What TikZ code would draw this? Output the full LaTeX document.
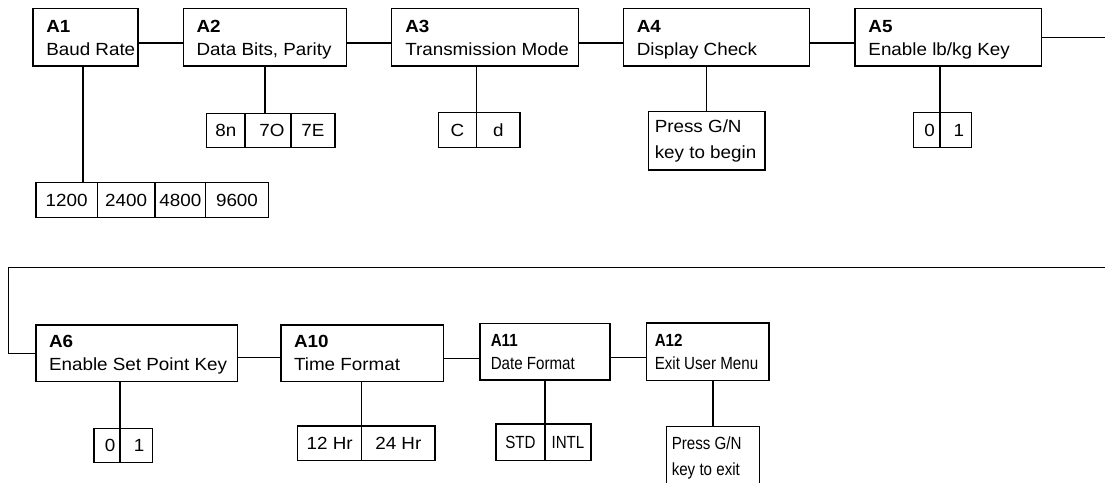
\documentclass[tikz,border=0pt]{standalone}
\usepackage{fontspec}
\setmainfont{Liberation Sans}[FakeStretch=1.07]
\newfontfamily\narrowfont{Liberation Sans}[FakeStretch=0.86]
\begin{document}
\begin{tikzpicture}[x=1pt,y=-1pt,line width=1.5pt,
  box/.style={draw,rectangle,inner sep=0pt,outer sep=0pt,anchor=north west},
  txt/.style={inner sep=0pt,anchor=base west,font=\fontsize{17.6}{19}\selectfont},
  ntxt/.style={inner sep=0pt,anchor=base west,font=\narrowfont\fontsize{17.6}{19}\selectfont},
  cell/.style={draw,rectangle,inner sep=0pt,outer sep=0pt,anchor=north west,font=\fontsize{17.6}{19}\selectfont},
  ncell/.style={cell,font=\narrowfont\fontsize{17.6}{19}\selectfont}]
\useasboundingbox (0,0) rectangle (1105,482);
\clip (0,0) rectangle (1105,482);

% ---------- top row ----------
\node[box,minimum width=105pt,minimum height=57.5pt] (a1) at (33,8.5) {};
\node[box,minimum width=163.4pt,minimum height=57.5pt] (a2) at (183.3,8.5) {};
\node[box,minimum width=186.6pt,minimum height=57.5pt] (a3) at (391.7,8.5) {};
\node[box,minimum width=186pt,minimum height=57.5pt] (a4) at (623.3,8.5) {};
\node[box,minimum width=186.7pt,minimum height=57.5pt] (a5) at (855,8.5) {};

\node[txt] (a1h) at (45.5,32.3) {\textbf{A1}};
\node[txt] (a1l) at (45.5,55) {Baud Rate};
\node[txt] (a2h) at (195.8,32.3) {\textbf{A2}};
\node[txt] (a2l) at (195.8,55) {Data Bits, Parity};
\node[txt] (a3h) at (404.5,32.3) {\textbf{A3}};
\node[txt] (a3l) at (404.5,55) {Transmission Mode};
\node[txt] (a4h) at (636,32.3) {\textbf{A4}};
\node[txt] (a4l) at (636,55) {Display Check};
\node[txt] (a5h) at (867.7,32.3) {\textbf{A5}};
\node[txt] (a5l) at (867.7,55) {Enable lb/kg Key};

\draw ([yshift=-5.5pt]a1.east) -- ([yshift=-5.5pt]a1.east -| a2.west);
\draw ([yshift=-5.5pt]a2.east) -- ([yshift=-5.5pt]a2.east -| a3.west);
\draw ([yshift=-5.5pt]a3.east) -- ([yshift=-5.5pt]a3.east -| a4.west);
\draw ([yshift=-5.5pt]a4.east) -- ([yshift=-5.5pt]a4.east -| a5.west);
\coordinate (r1) at (1105,37.25);
\draw (a5.east) -- (r1);

% options A1
\node[cell,minimum width=61.3pt,minimum height=34.6pt] (b1) at (36,182.7) {1200};
\node[cell,minimum width=57.7pt,minimum height=34.6pt] (b2) at (97.3,182.7) {2400};
\node[cell,minimum width=50.7pt,minimum height=34.6pt] (b3) at (155,182.7) {4800};
\node[cell,minimum width=62.6pt,minimum height=34.6pt] (b4) at (205.7,182.7) {9600\hspace{9pt}};
\draw ([xshift=-2.6pt]a1.south) -- ([xshift=-2.6pt]a1.south |- b1.north);

% options A2
\node[cell,minimum width=38.3pt,minimum height=34pt] (p1) at (206.7,113.3) {8n};
\node[cell,minimum width=46pt,minimum height=34pt] (p2) at (245,113.3) {\hspace{8pt}7O};
\node[cell,minimum width=44pt,minimum height=34pt] (p3) at (291,113.3) {7E};
\draw (a2.south) -- (a2.south |- p2.north);

% options A3
\node[cell,minimum width=38.4pt,minimum height=34.6pt] (m1) at (438.3,112.7) {C};
\node[cell,minimum width=43.3pt,minimum height=34.6pt] (m2) at (476.7,112.7) {d};
\draw (m1.north east) -- (m1.north east |- a3.south);

% A4 press box
\node[box,minimum width=116.7pt,minimum height=58.3pt] (g1) at (648.3,111.7) {};
\node[txt] (g1a) at (654,132.7) {Press G/N};
\node[txt] (g1b) at (654,158.3) {key to begin};
\draw (g1.north) -- (g1.north |- a4.south);

% options A5
\node[cell,minimum width=26.7pt,minimum height=34.6pt] (k1) at (913.3,112.7) {\hspace{6pt}0};
\node[cell,minimum width=31.7pt,minimum height=34.6pt] (k2) at (940,112.7) {\hspace{6pt}1};
\draw (k1.north east) -- (k1.north east |- a5.south);

% ---------- bottom row ----------
\node[box,minimum width=201.3pt,minimum height=56.7pt] (a6) at (36,325) {};
\node[box,minimum width=162.3pt,minimum height=56.7pt] (a10) at (281,325) {};
\node[box,minimum width=130pt,minimum height=56.7pt] (a11) at (480,323.3) {};
\node[box,minimum width=122.3pt,minimum height=57.7pt] (a12) at (646.7,323) {};

\node[txt] (a6h) at (48.3,347.3) {\textbf{A6}};
\node[txt] (a6l) at (48.3,370) {Enable Set Point Key};
\node[txt] (a10h) at (293.3,347.3) {\textbf{A10}};
\node[txt] (a10l) at (293.3,370) {Time Format};
\node[ntxt] (a11h) at (490,346) {\textbf{A11}};
\node[ntxt] (a11l) at (490,369) {Date Format};
\node[ntxt] (a12h) at (654,346) {\textbf{A12}};
\node[ntxt] (a12l) at (654,369) {Exit User Menu};

\coordinate (r2) at (1105,267.3);
\coordinate (l1) at (8.3,267.3);
\draw (r2) -- (l1) |- (a6.west);
\draw ([yshift=-4pt]a6.east) -- ([yshift=-4pt]a6.east -| a10.west);
\draw ([yshift=-5pt]a10.east) -- ([yshift=-5pt]a10.east -| a11.west);
\draw ([yshift=-5.6pt]a11.east) -- ([yshift=-5.6pt]a11.east -| a12.west);

% options A6
\node[cell,minimum width=26pt,minimum height=34pt] (s1) at (94,428.3) {\hspace{6pt}0};
\node[cell,minimum width=32.3pt,minimum height=34pt] (s2) at (120,428.3) {\hspace{6pt}1};
\draw (s1.north east) -- (s1.north east |- a6.south);

% options A10
\node[cell,minimum width=64pt,minimum height=34.7pt] (h1) at (297.7,426) {12 Hr};
\node[cell,minimum width=73.3pt,minimum height=34.7pt] (h2) at (361.7,426) {24 Hr};
\draw (h1.north east) -- (h1.north east |- a10.south);

% options A11
\node[ncell,minimum width=49pt,minimum height=36.7pt] (d1) at (496,424) {STD};
\node[ncell,minimum width=46pt,minimum height=36.7pt] (d2) at (545,424) {INTL};
\draw (d1.north east) -- (d1.north east |- a11.south);

% A12 press box
\node[box,minimum width=92.6pt,minimum height=70pt] (g2) at (666.7,426.7) {};
\node[ntxt] (g2a) at (671,449.3) {Press G/N};
\node[ntxt] (g2b) at (671,475) {key to exit};
\draw (g2.north) -- (g2.north |- a12.south);
\end{tikzpicture}
\end{document}
